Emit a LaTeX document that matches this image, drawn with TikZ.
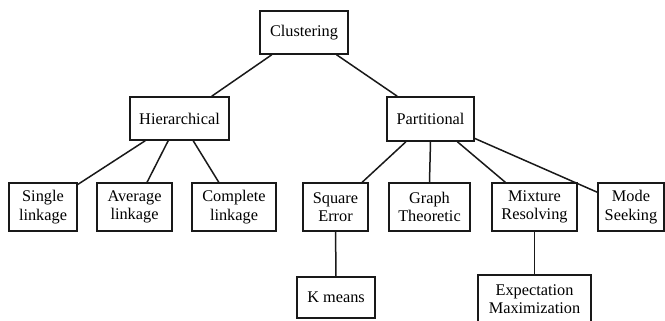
\documentclass[tikz,border=0pt]{standalone}
\usepackage{fontspec}
\setmainfont{Liberation Serif}
\begin{document}
\begin{tikzpicture}[x=1pt,y=-1pt,
  box/.style={draw=black!90, line width=1.5pt, rectangle, inner sep=0pt, align=center,
    font=\fontsize{16.3}{18.3}\selectfont, text=black},
  link/.style={draw=black!90, line width=1.5pt}]
\useasboundingbox (0,0) rectangle (665,321);
\node[box, minimum width=88pt, minimum height=43pt] (clu) at (304,32.5) {Clustering};
\node[box, minimum width=99pt, minimum height=43pt] (hier) at (179.5,118.5) {Hierarchical};
\node[box, minimum width=87pt, minimum height=44pt] (part) at (430.5,119) {Partitional};
\node[box, minimum width=68pt, minimum height=48pt] (single) at (43,207) {Single\\linkage};
\node[box, minimum width=75pt, minimum height=48pt] (avg) at (134.5,207) {Average\\linkage};
\node[box, minimum width=84pt, minimum height=48pt] (comp) at (234,207) {Complete\\linkage};
\node[box, minimum width=65pt, minimum height=48pt] (sq) at (335.5,207) {Square\\Error};
\node[box, minimum width=81pt, minimum height=48pt] (graph) at (429.5,207) {Graph\\Theoretic};
\node[box, minimum width=85pt, minimum height=48pt] (mix) at (534.5,207) {Mixture\\Resolving};
\node[box, minimum width=66pt, minimum height=48pt] (mode) at (631,207) {Mode\\Seeking};
\node[box, minimum width=78pt, minimum height=41pt] (km) at (336,297.5) {K means};
\node[box, minimum width=113pt, minimum height=48pt] (em) at (534.5,299) {Expectation\\Maximization};
\draw[link] (clu) -- (hier);
\draw[link] (clu) -- (part);
\draw[link] (hier) -- (single);
\draw[link] (hier) -- (avg);
\draw[link] (hier) -- (comp);
\draw[link] (part) -- (sq);
\draw[link] (part.south) -- (graph.north);
\draw[link] (part) -- (mix);
\draw[link] (part) -- (mode);
\draw[link] (sq) -- (km);
\draw[link] (mix) -- (em);
\end{tikzpicture}
\end{document}
